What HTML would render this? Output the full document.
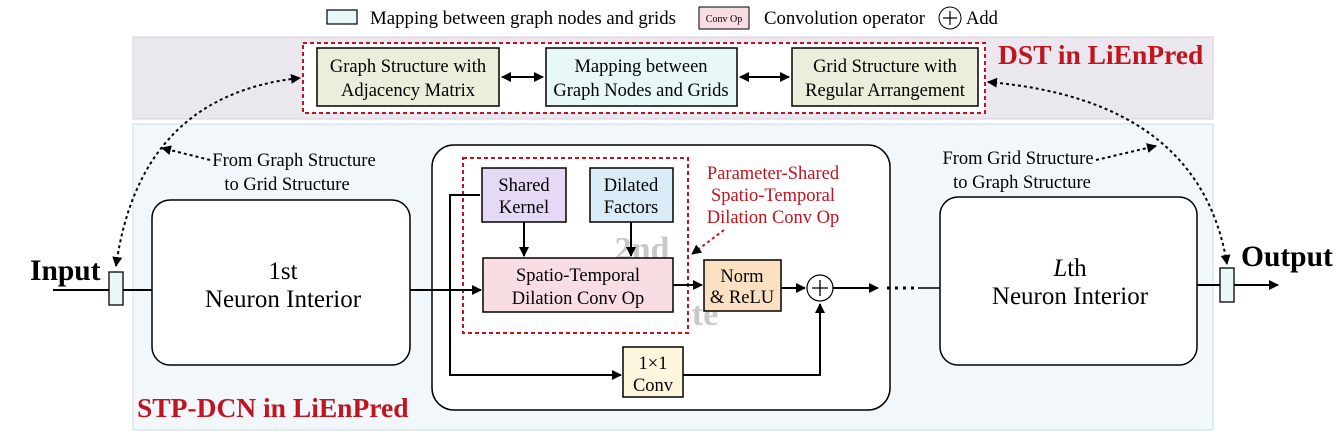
<!DOCTYPE html>
<html><head><meta charset="utf-8"><style>
html,body{margin:0;padding:0;background:#fff;}
svg{display:block;font-family:"Liberation Serif",serif;}
</style></head><body>
<svg width="1343" height="438" viewBox="0 0 1343 438" xmlns="http://www.w3.org/2000/svg">
<defs>
<marker id="a" viewBox="0 0 10 10" refX="9" refY="5" markerWidth="5" markerHeight="5" orient="auto-start-reverse"><path d="M0,0L10,5L0,10z" fill="#000"/></marker>
</defs>
<!-- legend -->
<rect x="327" y="10" width="30" height="14" fill="#e8f8f9" stroke="#000" stroke-width="1.2"/>
<text x="370" y="24" font-size="18.5" textLength="306" lengthAdjust="spacingAndGlyphs">Mapping between graph nodes and grids</text>
<rect x="699" y="7" width="50" height="22" fill="#f8dde3" stroke="#000" stroke-width="1"/>
<text x="724" y="22" font-size="10" text-anchor="middle">Conv Op</text>
<text x="764" y="24" font-size="18.5" textLength="161" lengthAdjust="spacingAndGlyphs">Convolution operator</text>
<circle cx="950" cy="18" r="11" fill="#fff" stroke="#000" stroke-width="1"/>
<path d="M943,18H957M950,11V25" stroke="#000" stroke-width="1.2"/>
<text x="966" y="24" font-size="18.5">Add</text>
<!-- panels -->
<rect x="133" y="37" width="1080" height="82" fill="#ebe7ef" stroke="#d6d2dc" stroke-width="1"/>
<rect x="133" y="124" width="1080" height="306" fill="#f2f7fb" stroke="#cfe3ea" stroke-width="1.2"/>
<!-- DST -->
<rect x="303" y="43" width="682" height="70" fill="#fff" stroke="#c0141e" stroke-width="2" stroke-dasharray="4,3"/>
<rect x="317" y="48" width="182" height="58" fill="#eaeedb" stroke="#000" stroke-width="1.5"/>
<text x="408" y="72" font-size="18.5" text-anchor="middle">Graph Structure with</text>
<text x="408" y="96" font-size="18.5" text-anchor="middle">Adjacency Matrix</text>
<rect x="546" y="48" width="191" height="58" fill="#e8f8f9" stroke="#000" stroke-width="1.5"/>
<text x="641" y="72" font-size="18.5" text-anchor="middle">Mapping between</text>
<text x="641" y="96" font-size="18.5" text-anchor="middle">Graph Nodes and Grids</text>
<rect x="792" y="48" width="186" height="58" fill="#eaeedb" stroke="#000" stroke-width="1.5"/>
<text x="885" y="72" font-size="18.5" text-anchor="middle">Grid Structure with</text>
<text x="885" y="96" font-size="18.5" text-anchor="middle">Regular Arrangement</text>
<line x1="502" y1="77" x2="543" y2="77" stroke="#000" stroke-width="2" marker-start="url(#a)" marker-end="url(#a)"/>
<line x1="740" y1="77" x2="789" y2="77" stroke="#000" stroke-width="2" marker-start="url(#a)" marker-end="url(#a)"/>
<text x="998" y="64" font-size="27.5" font-weight="bold" fill="#c0141e">DST in LiEnPred</text>
<!-- dotted curves -->
<path d="M116,266 Q140,95 300,78" fill="none" stroke="#000" stroke-width="2" stroke-dasharray="3,3" marker-start="url(#a)" marker-end="url(#a)"/>
<path d="M210,160 L162,148" fill="none" stroke="#000" stroke-width="2" stroke-dasharray="3,3" marker-end="url(#a)"/>
<path d="M988,82 Q1200,100 1227,264" fill="none" stroke="#000" stroke-width="2" stroke-dasharray="3,3" marker-start="url(#a)" marker-end="url(#a)"/>
<path d="M1096,160 L1156,146" fill="none" stroke="#000" stroke-width="2" stroke-dasharray="3,3" marker-end="url(#a)"/>
<text x="294" y="166" font-size="18.5" text-anchor="middle">From Graph Structure</text>
<text x="287" y="190" font-size="18.5" text-anchor="middle">to Grid Structure</text>
<text x="1018" y="164" font-size="18.5" text-anchor="middle">From Grid Structure</text>
<text x="1022" y="188" font-size="18.5" text-anchor="middle">to Graph Structure</text>
<!-- input -->
<text x="30" y="280" font-size="29.5" font-weight="bold">Input</text>
<line x1="53" y1="290" x2="152" y2="290" stroke="#000" stroke-width="2"/>
<rect x="109" y="272" width="14" height="33" fill="#e8f8f9" stroke="#000" stroke-width="1.3"/>
<!-- 1st neuron -->
<rect x="152" y="200" width="258" height="165" rx="18" fill="#fff" stroke="#000" stroke-width="1.5"/>
<text x="283" y="279" font-size="25" text-anchor="middle">1st</text>
<text x="283" y="307" font-size="25" text-anchor="middle">Neuron Interior</text>
<line x1="410" y1="290" x2="432" y2="290" stroke="#000" stroke-width="2"/>
<!-- 2nd neuron -->
<rect x="432" y="145" width="458" height="265" rx="22" fill="#fff" stroke="#000" stroke-width="1.5"/>
<text x="642" y="260" font-size="34" font-weight="bold" fill="#c8c8c8" text-anchor="middle">2nd</text>
<text x="705" y="325" font-size="34" font-weight="bold" fill="#c8c8c8" text-anchor="middle">te</text>
<rect x="463" y="158" width="225" height="175" fill="none" stroke="#c0141e" stroke-width="2" stroke-dasharray="4,3"/>
<rect x="482" y="168" width="84" height="54" fill="#e6d9f5" stroke="#000" stroke-width="1.5"/>
<text x="524" y="191" font-size="18.5" text-anchor="middle">Shared</text>
<text x="524" y="213" font-size="18.5" text-anchor="middle">Kernel</text>
<rect x="590" y="168" width="83" height="54" fill="#d9ecf8" stroke="#000" stroke-width="1.5"/>
<text x="631" y="191" font-size="18.5" text-anchor="middle">Dilated</text>
<text x="631" y="213" font-size="18.5" text-anchor="middle">Factors</text>
<rect x="483" y="258" width="190" height="54" fill="#f8dde3" stroke="#000" stroke-width="1.5"/>
<text x="578" y="281" font-size="18.5" text-anchor="middle">Spatio-Temporal</text>
<text x="578" y="304" font-size="18.5" text-anchor="middle">Dilation Conv Op</text>
<rect x="704" y="260" width="77" height="51" fill="#fbe1c2" stroke="#000" stroke-width="1.5"/>
<text x="742" y="282" font-size="18.5" text-anchor="middle">Norm</text>
<text x="742" y="303" font-size="18.5" text-anchor="middle">&amp; ReLU</text>
<rect x="623" y="347" width="60" height="50" fill="#fdf6dc" stroke="#000" stroke-width="1.5"/>
<text x="653" y="369" font-size="18.5" text-anchor="middle">1×1</text>
<text x="653" y="391" font-size="18.5" text-anchor="middle">Conv</text>
<text x="773" y="179" font-size="18.5" fill="#c0141e" text-anchor="middle">Parameter-Shared</text>
<text x="773" y="201" font-size="18.5" fill="#c0141e" text-anchor="middle">Spatio-Temporal</text>
<text x="773" y="223" font-size="18.5" fill="#c0141e" text-anchor="middle">Dilation Conv Op</text>
<line x1="724" y1="230" x2="692" y2="254" stroke="#c0141e" stroke-width="2" stroke-dasharray="3,3" marker-end="url(#a)"/>
<g stroke="#000" stroke-width="2" fill="none">
<line x1="432" y1="290" x2="481" y2="290" marker-end="url(#a)"/>
<polyline points="480,195 450,195 450,375 621,375" marker-end="url(#a)"/>
<line x1="524" y1="222" x2="524" y2="256" marker-end="url(#a)"/>
<line x1="631" y1="222" x2="631" y2="256" marker-end="url(#a)"/>
<line x1="673" y1="285" x2="702" y2="285" marker-end="url(#a)"/>
<line x1="781" y1="288" x2="805" y2="288" marker-end="url(#a)"/>
<polyline points="683,375 820,375 820,304" marker-end="url(#a)"/>
<line x1="833" y1="288" x2="878" y2="288" marker-end="url(#a)"/>
</g>
<circle cx="820" cy="288" r="13" fill="#fff" stroke="#000" stroke-width="1.2"/>
<path d="M812,288H828M820,280V296" stroke="#000" stroke-width="1.3"/>
<line x1="887" y1="288" x2="918" y2="288" stroke="#000" stroke-width="3" stroke-dasharray="3,5"/>
<line x1="918" y1="288" x2="940" y2="288" stroke="#000" stroke-width="1.5"/>
<!-- Lth -->
<rect x="940" y="197" width="257" height="168" rx="18" fill="#fff" stroke="#000" stroke-width="1.5"/>
<text x="1070" y="276" font-size="25" text-anchor="middle"><tspan font-style="italic">L</tspan>th</text>
<text x="1070" y="304" font-size="25" text-anchor="middle">Neuron Interior</text>
<line x1="1197" y1="285" x2="1278" y2="285" stroke="#000" stroke-width="2" marker-end="url(#a)"/>
<rect x="1220" y="268" width="14" height="34" fill="#e8f8f9" stroke="#000" stroke-width="1.3"/>
<text x="1241" y="266" font-size="29.5" font-weight="bold">Output</text>
<text x="137" y="417" font-size="27.5" font-weight="bold" fill="#c0141e">STP-DCN in LiEnPred</text>
</svg>
</body></html>
